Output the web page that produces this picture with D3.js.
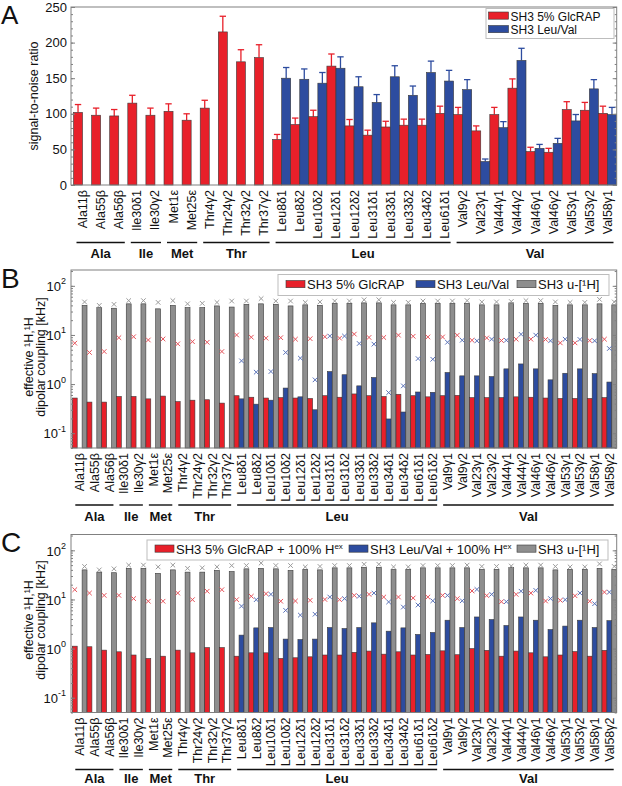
<!DOCTYPE html>
<html><head><meta charset="utf-8">
<script src="https://cdn.jsdelivr.net/npm/d3@7/dist/d3.min.js"></script>
<style>body{margin:0;background:#fff} svg{display:block;font-family:"Liberation Sans",Arial,Helvetica,sans-serif}</style>
</head><body><svg id="c" width="622" height="786"></svg>
<script>
// ---------------- DATA ----------------
const catsA = ["Ala11β","Ala55β","Ala56β","Ile30δ1","Ile30γ2","Met1ε","Met25ε","Thr4γ2","Thr24γ2","Thr32γ2","Thr37γ2",
  "Leu8δ1","Leu8δ2","Leu10δ2","Leu12δ1","Leu12δ2","Leu31δ1","Leu33δ1","Leu33δ2","Leu34δ2","Leu61δ1",
  "Val9γ2","Val23γ1","Val44γ1","Val44γ2","Val46γ1","Val46γ2","Val53γ1","Val53γ2","Val58γ1"];
const snrRed = [102,98,97,115,98,103.5,91,108,215,173,179, 64,85,96,167,83,70,81.5,84,84,100.7, 99,76,99,136,47,46,106,105,100.7];
const snrRedErr = [11,10,9,11,10,10.5,9,11,22,17,18, 7,9,9,17,9,7,8,8.5,8.5,10, 10,7,10,13,6,5.5,11,11,10];
const snrBlue = [null,null,null,null,null,null,null,null,null,null,null,
  150,148.5,143,164,138,116,152,126,158,146, 134,33,80.5,175,51.5,58.5,90,135,99];
const snrBlueErr = [null,null,null,null,null,null,null,null,null,null,null,
  15,14.5,15,16,14,11,15.5,13,16,15, 14,3.5,8.5,17,5.5,7,9,13,10];
const groupsA = [["Ala",0,2],["Ile",3,4],["Met",5,6],["Thr",7,10],["Leu",11,20],["Val",21,29]];

const catsB = ["Ala11β","Ala55β","Ala56β","Ile30δ1","Ile30γ2","Met1ε","Met25ε","Thr4γ2","Thr24γ2","Thr32γ2","Thr37γ2",
  "Leu8δ1","Leu8δ2","Leu10δ1","Leu10δ2","Leu12δ1","Leu12δ2","Leu31δ1","Leu31δ2","Leu33δ1","Leu33δ2","Leu34δ1","Leu34δ2","Leu61δ1","Leu61δ2",
  "Val9γ1","Val9γ2","Val23γ1","Val23γ2","Val44γ1","Val44γ2","Val46γ1","Val46γ2","Val53γ1","Val53γ2","Val58γ1","Val58γ2"];
const groupsB = [["Ala",0,2],["Ile",3,4],["Met",5,6],["Thr",7,10],["Leu",11,24],["Val",25,36]];
const N11 = [null,null,null,null,null,null,null,null,null,null,null];

// u-[1H] (shared by B and C)
const grayBar = [40,36,35,43,43,34,40,36,36,39,37, 42,43,42,39,41,40,44,44,45,45,41,41,44,44, 44,44,41,41,45,44,44,40,41,41,43,41];
const grayX   = [47,40,42,50,50,46,50,43,44,46,49, 49,55,49,49,46,47,49,49,52,52,46,46,49,49, 49,50,47,47,48,50,50,47,46,46,53,47];

// Panel B
const redBarB = [0.52,0.43,0.43,0.56,0.56,0.50,0.57,0.44,0.47,0.48,0.41, 0.58,0.54,0.52,0.53,0.52,0.51,0.58,0.54,0.63,0.58,0.56,0.62,0.58,0.55, 0.58,0.59,0.53,0.53,0.53,0.55,0.54,0.52,0.51,0.51,0.51,0.53];
const blueBarB = N11.concat([0.50,0.39,0.47,0.83,0.55,0.30,1.8,1.55,0.92,1.36,0.195,0.27,0.69,0.68, 1.72,1.47,1.47,1.42,2.04,2.57,2.04,1.22,1.66,2.04,1.63,1.1]);
const redXB = [6.8,4.4,4.6,8.8,9.2,7.9,8.3,6.6,7.3,7.1,4.6, 10,9.0,8.6,8.8,8.2,8.4,9.2,8.6,10.4,8.9,8.9,9.9,9.4,9.1, 9.1,9.9,7.8,8.7,7.7,8.2,8.2,8.1,6.9,6.9,7.7,8.2];
const blueXB = N11.concat([2.97,1.75,1.8,4.4,3.37,1.22,9.5,9.5,6.7,6.5,0.67,0.92,3.3,3.2, 7.1,7.8,7.6,8.2,7.8,10.3,9.9,7.6,8.2,8.1,7.6,5.3]);

// Panel C
const redBarC = [1.12,1.09,0.93,0.86,0.74,0.63,0.70,0.93,0.82,1.05,1.05, 0.70,0.82,0.82,0.63,0.65,0.68,0.74,0.74,0.84,0.89,0.77,0.86,0.74,0.76, 0.90,0.75,1.0,0.92,0.70,0.89,0.82,0.68,0.74,0.87,0.70,0.92];
const blueBarC = N11.concat([1.88,2.64,2.68,1.56,1.53,1.56,2.68,2.56,2.68,3.34,2.26,2.64,1.94,2.13, 3.78,2.68,4.4,3.9,2.95,4.4,3.78,2.44,2.87,3.78,2.68,3.7]);
const redXC = [15.8,13.5,12.1,12.1,10.4,9.2,9.2,13.5,9.9,14.7,15.8, 9.9,11.6,13.1,9.2,9.3,9.6,10.0,9.9,12.1,12.7,11.2,11.2,10.7,11.2, 12.1,10.4,14.9,12,9.0,12.7,13.5,9.3,9.6,11.9,9.2,14.1];
const blueXC = N11.concat([7.3,9.9,12.7,6.0,4.8,5.0,11.2,10.4,11.6,13.5,8.9,7.0,7.7,9.4, 12.1,9.4,16,12.7,9.0,14.7,15.3,10.4,9.9,13.5,8.2,14.1]);

const yTicksA = [0,50,100,150,200,250];
const yTicksLog = [0.1,1,10,100];

// ---------------- STYLE ----------------
const RED="#e8202a", BLUE="#2d4c9f", GRAY="#8e8e8e";
const REDX="#e5535b", BLUEX="#5a72b8", GRAYX="#9b9b9b";
const FRAME="#808080", OUT="#3a3a3a";
const svg = d3.select("#c");

function frame(x0,x1,y0,y1){
  svg.append("rect").attr("x",x0).attr("y",y0).attr("width",x1-x0).attr("height",y1-y0)
    .attr("fill","none").attr("stroke",FRAME).attr("stroke-width",1);
}
function xmark(g,cx,cy,col){
  const s=2.3;
  g.append("path").attr("d",`M${cx-s},${cy-s}L${cx+s},${cy+s}M${cx-s},${cy+s}L${cx+s},${cy-s}`)
    .attr("stroke",col).attr("stroke-width",1).attr("fill","none");
}
function catLabels(cats,x,y0){
  const g=svg.append("g").attr("font-size","12.5px").attr("fill","#111");
  cats.forEach(c=>{
    g.append("text").attr("transform",`translate(${x(c)+x.bandwidth()/2},${y0}) rotate(-90)`)
      .attr("text-anchor","end").attr("dy","0.36em").text(c);
  });
}
function groups(gr,cats,x,yl,yt){
  const g=svg.append("g");
  gr.forEach(([name,a,b])=>{
    const x0=x(cats[a])+3, x1=x(cats[b])+x.bandwidth()-3;
    g.append("line").attr("x1",x0).attr("x2",x1).attr("y1",yl).attr("y2",yl).attr("stroke","#111").attr("stroke-width",1.4);
    g.append("text").attr("x",(x0+x1)/2).attr("y",yt).attr("text-anchor","middle")
      .attr("font-weight","bold").attr("font-size","13px").attr("fill","#111").text(name);
  });
}
function letter(t,y,fs){ svg.append("text").attr("x",1).attr("y",y).attr("font-size",(fs||28)+"px").attr("fill","#111").text(t); }

// ---------------- PANEL A ----------------
(function(){
  const L=71, R=616.7, T=7, B=185;
  const x=d3.scaleBand().domain(catsA).range([73.5,616.5]);
  const s=d3.scaleBand().domain(["r","b"]).range([0,x.bandwidth()]);
  const y=d3.scaleLinear().domain([0,250]).range([B,T]);
  const g=svg.append("g");
  catsA.forEach((c,i)=>{
    [["r",snrRed[i],snrRedErr[i],RED],["b",snrBlue[i],snrBlueErr[i],BLUE]].forEach(([k,v,e,col])=>{
      if(v==null) return;
      const bx=x(c)+s(k), bw=s.bandwidth(), cx=bx+bw/2;
      g.append("line").attr("x1",cx).attr("x2",cx).attr("y1",y(v)).attr("y2",y(v+e)).attr("stroke",col).attr("stroke-width",1.3);
      g.append("line").attr("x1",cx-3.2).attr("x2",cx+3.2).attr("y1",y(v+e)).attr("y2",y(v+e)).attr("stroke",col).attr("stroke-width",1.3);
      g.append("rect").attr("x",bx).attr("y",y(v)).attr("width",bw).attr("height",y(0)-y(v))
        .attr("fill",col).attr("stroke",OUT).attr("stroke-width",0.6);
    });
  });
  const ax=svg.append("g").attr("transform",`translate(${L},0)`)
    .call(d3.axisLeft(y).tickValues(yTicksA).tickSizeInner(-4).tickSizeOuter(0).tickPadding(4));
  ax.select(".domain").remove();
  ax.selectAll("line").attr("stroke",FRAME);
  ax.selectAll("text").attr("font-size","13px").attr("fill","#111").attr("font-family",null);
  const mn=svg.append("g").attr("transform",`translate(${L},0)`)
    .call(d3.axisLeft(y).tickValues(d3.range(0,251,10)).tickSizeInner(-2).tickSizeOuter(0).tickFormat(""));
  mn.select(".domain").remove(); mn.selectAll("line").attr("stroke",FRAME);
  const ar=svg.append("g").attr("transform",`translate(${R},0)`)
    .call(d3.axisRight(y).tickValues(yTicksA).tickSizeInner(-4).tickSizeOuter(0).tickFormat(""));
  ar.select(".domain").remove(); ar.selectAll("line").attr("stroke",FRAME);
  const mr=svg.append("g").attr("transform",`translate(${R},0)`)
    .call(d3.axisRight(y).tickValues(d3.range(0,251,10)).tickSizeInner(-2).tickSizeOuter(0).tickFormat(""));
  mr.select(".domain").remove(); mr.selectAll("line").attr("stroke",FRAME);
  frame(L,R,T,B);
  svg.append("text").attr("transform","translate(38,96) rotate(-90)").attr("text-anchor","middle")
    .attr("font-size","12.5px").attr("fill","#111").text("signal-to-noise ratio");
  catLabels(catsA,x,B+5);
  groups(groupsA,catsA,x,242.5,258);
  svg.append("rect").attr("x",486).attr("y",8.5).attr("width",128).attr("height",30).attr("fill","#fff").attr("stroke","#bdbdbd");
  [[RED,"SH3 5% GlcRAP",20.5],[BLUE,"SH3 Leu/Val",34]].forEach(([col,t,bl])=>{
    svg.append("rect").attr("x",488.5).attr("y",bl-8.5).attr("width",20).attr("height",7.2).attr("fill",col).attr("stroke",OUT).attr("stroke-width",0.6);
    svg.append("text").attr("x",510.5).attr("y",bl).attr("font-size","12px").attr("fill","#111").text(t);
  });
  letter("A",24,26);
})();

// ---------------- PANELS B, C ----------------
function logPanel(T,B,redBar,blueBar,redX,blueX,legendItems,legBox,letterText,letterY,titleCY,groupY){
  const L=71, R=616.7;
  const x=d3.scaleBand().domain(catsB).range([72.3,616.7]);
  const s=d3.scaleBand().domain(["r","b","g"]).range([0,x.bandwidth()]);
  const y=d3.scaleLog().domain([0.05,210]).range([B,T]);
  const g=svg.append("g");
  catsB.forEach((c,i)=>{
    [["r",redBar[i],RED],["b",blueBar[i],BLUE],["g",grayBar[i],GRAY]].forEach(([k,v,col])=>{
      if(v==null) return;
      g.append("rect").attr("x",x(c)+s(k)).attr("y",y(v)).attr("width",s.bandwidth()).attr("height",B-y(v))
        .attr("fill",col).attr("stroke",OUT).attr("stroke-width",0.6);
    });
  });
  catsB.forEach((c,i)=>{
    [["r",redX[i],REDX],["b",blueX[i],BLUEX],["g",grayX[i],GRAYX]].forEach(([k,v,col])=>{
      if(v==null) return;
      xmark(g,x(c)+s(k)+s.bandwidth()/2,y(v),col);
    });
  });
  const minor=[];
  for(let d=-2; d<=2; d++) for(let m=1;m<=9;m++){ const v=m*Math.pow(10,d); if(v>=0.05&&v<=210) minor.push(v); }
  const ax=svg.append("g").attr("transform",`translate(${L},0)`)
    .call(d3.axisLeft(y).tickValues(yTicksLog).tickSizeInner(-4).tickSizeOuter(0).tickPadding(9).tickFormat(""));
  ax.select(".domain").remove(); ax.selectAll("line").attr("stroke",FRAME);
  ax.selectAll(".tick").each(function(d){
    const t=d3.select(this).append("text").attr("x",-5).attr("dy","0.36em").attr("text-anchor","end")
      .attr("fill","#111").attr("font-size","13px");
    t.append("tspan").text("10");
    t.append("tspan").attr("font-size","9px").attr("dy","-0.75em").text(String(Math.round(Math.log10(d))));
  });
  const mn=svg.append("g").attr("transform",`translate(${L},0)`)
    .call(d3.axisLeft(y).tickValues(minor).tickSizeInner(-2).tickSizeOuter(0).tickFormat(""));
  mn.select(".domain").remove(); mn.selectAll("line").attr("stroke",FRAME);
  const ar=svg.append("g").attr("transform",`translate(${R},0)`)
    .call(d3.axisRight(y).tickValues(yTicksLog).tickSizeInner(-4).tickSizeOuter(0).tickFormat(""));
  ar.select(".domain").remove(); ar.selectAll("line").attr("stroke",FRAME);
  const mr=svg.append("g").attr("transform",`translate(${R},0)`)
    .call(d3.axisRight(y).tickValues(minor).tickSizeInner(-2).tickSizeOuter(0).tickFormat(""));
  mr.select(".domain").remove(); mr.selectAll("line").attr("stroke",FRAME);
  frame(L,R,T,B);
  const tt=svg.append("g").attr("font-size","12.5px").attr("fill","#111").attr("text-anchor","middle");
  tt.append("text").attr("transform",`translate(32.5,${titleCY}) rotate(-90)`).text("effective ¹H,¹H");
  tt.append("text").attr("transform",`translate(45,${titleCY}) rotate(-90)`).text("dipolar coupling [kHz]");
  catLabels(catsB,x,B+5);
  groups(groupsB,catsB,x,B+57,groupY);
  svg.append("rect").attr("x",legBox[0]).attr("y",legBox[1]).attr("width",legBox[2]-legBox[0]).attr("height",legBox[3]-legBox[1])
    .attr("fill","#fff").attr("stroke","#bdbdbd");
  const bl=legBox[3]-6.5;
  legendItems.forEach(([col,main,sup,rx])=>{
    svg.append("rect").attr("x",rx).attr("y",bl-8.5).attr("width",19).attr("height",7.2).attr("fill",col).attr("stroke",OUT).attr("stroke-width",0.6);
    const t=svg.append("text").attr("x",rx+21).attr("y",bl).attr("font-size","13px").attr("fill","#111");
    t.append("tspan").text(main);
    if(sup) t.append("tspan").attr("font-size","8px").attr("dy","-0.55em").text(sup);
  });
  letter(letterText,letterY);
}

logPanel(270,448,redBarB,blueBarB,redXB,blueXB,
  [[RED,"SH3 5% GlcRAP",null,286],[BLUE,"SH3 Leu/Val",null,416],[GRAY,"SH3 u-[¹H]",null,517]],
  [278,274.5,609,295.5],"B",288,357,521);
logPanel(534.5,712.5,redBarC,blueBarC,redXC,blueXC,
  [[RED,"SH3 5% GlcRAP + 100% H","ex",155],[BLUE,"SH3 Leu/Val + 100% H","ex",349],[GRAY,"SH3 u-[¹H]",null,517]],
  [147,540,608,560],"C",552,620,783);
</script></body></html>
